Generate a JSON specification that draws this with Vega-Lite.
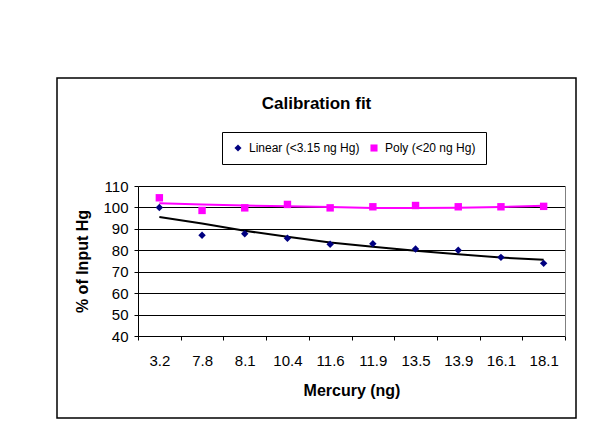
{
  "$schema": "https://vega.github.io/schema/vega-lite/v6.json",
  "width": 519,
  "height": 340,
  "autosize": {"type": "none"},
  "padding": {"left": 57, "top": 78, "right": 15, "bottom": 27},
  "background": "white",
  "config": {
    "font": "Liberation Sans",
    "view": {"stroke": "#000000", "strokeWidth": 1.5, "fill": "white"},
    "axis": {
      "labelFont": "Liberation Sans", "labelFontSize": 15, "labelColor": "black",
      "titleFont": "Liberation Sans", "titleFontSize": 16, "titleFontWeight": "bold", "titleColor": "black",
      "domainColor": "black", "tickColor": "black", "gridColor": "black", "tickSize": 4
    }
  },
  "title": {"text": "Calibration fit", "fontSize": 17, "fontWeight": "bold", "font": "Liberation Sans", "color": "black", "anchor": "middle", "offset": -35},
  "data": {"values": [
    {"mercury": "3.2", "series": "Linear (<3.15 ng Hg)", "value": 100, "fit": 95.5},
    {"mercury": "7.8", "series": "Linear (<3.15 ng Hg)", "value": 87, "fit": 92.5},
    {"mercury": "8.1", "series": "Linear (<3.15 ng Hg)", "value": 87.7, "fit": 89.1},
    {"mercury": "10.4", "series": "Linear (<3.15 ng Hg)", "value": 85.6, "fit": 86.3},
    {"mercury": "11.6", "series": "Linear (<3.15 ng Hg)", "value": 82.8, "fit": 83.6},
    {"mercury": "11.9", "series": "Linear (<3.15 ng Hg)", "value": 83.1, "fit": 81.6},
    {"mercury": "13.5", "series": "Linear (<3.15 ng Hg)", "value": 80.6, "fit": 79.8},
    {"mercury": "13.9", "series": "Linear (<3.15 ng Hg)", "value": 80, "fit": 78.1},
    {"mercury": "16.1", "series": "Linear (<3.15 ng Hg)", "value": 76.7, "fit": 76.6},
    {"mercury": "18.1", "series": "Linear (<3.15 ng Hg)", "value": 73.9, "fit": 75.6},
    {"mercury": "3.2", "series": "Poly (<20 ng Hg)", "value": 104.5, "fit": 101.9},
    {"mercury": "7.8", "series": "Poly (<20 ng Hg)", "value": 98.6, "fit": 101.4},
    {"mercury": "8.1", "series": "Poly (<20 ng Hg)", "value": 99.8, "fit": 100.9},
    {"mercury": "10.4", "series": "Poly (<20 ng Hg)", "value": 101.4, "fit": 100.5},
    {"mercury": "11.6", "series": "Poly (<20 ng Hg)", "value": 99.8, "fit": 100.2},
    {"mercury": "11.9", "series": "Poly (<20 ng Hg)", "value": 100.3, "fit": 99.7},
    {"mercury": "13.5", "series": "Poly (<20 ng Hg)", "value": 100.9, "fit": 99.7},
    {"mercury": "13.9", "series": "Poly (<20 ng Hg)", "value": 100.3, "fit": 99.8},
    {"mercury": "16.1", "series": "Poly (<20 ng Hg)", "value": 100.3, "fit": 100.2},
    {"mercury": "18.1", "series": "Poly (<20 ng Hg)", "value": 100.5, "fit": 100.8}
  ]},
  "encoding": {
    "x": {
      "field": "mercury", "type": "ordinal",
      "sort": ["3.2", "7.8", "8.1", "10.4", "11.6", "11.9", "13.5", "13.9", "16.1", "18.1"],
      "scale": {"type": "band", "range": [81, 508], "paddingInner": 0, "paddingOuter": 0},
      "axis": {"title": "Mercury (ng)", "labelAngle": 0, "tickBand": "extent", "offset": -82, "grid": false, "labelPadding": 13, "titlePadding": 14}
    }
  },
  "layer": [
    {
      "mark": {"type": "line", "strokeWidth": 2},
      "encoding": {
        "y": {
          "field": "fit", "type": "quantitative",
          "scale": {"domain": [40, 110], "range": [258, 108], "nice": false, "zero": false},
          "axis": {"title": "% of Input Hg", "values": [40, 50, 60, 70, 80, 90, 100, 110], "offset": -81, "grid": true, "gridWidth": 1, "labelPadding": 6, "titlePadding": 12}
        },
        "stroke": {"field": "series", "type": "nominal", "scale": {"range": ["#000000", "#FF00FF"]}, "legend": null}
      }
    },
    {
      "mark": {"type": "point", "filled": true, "opacity": 1, "size": 55},
      "encoding": {
        "y": {
          "field": "value", "type": "quantitative",
          "axis": {"orient": "right", "labels": false, "ticks": false, "grid": false, "title": null, "domainColor": "#808080", "offset": -11}
        },
        "color": {
          "field": "series", "type": "nominal",
          "scale": {"range": ["#000080", "#FF00FF"]},
          "legend": {"orient": "none", "legendX": 165, "legendY": 54, "direction": "horizontal", "title": null, "strokeColor": "black", "fillColor": "white", "padding": 10, "labelFontSize": 12, "labelFont": "Liberation Sans", "labelColor": "black", "symbolSize": 50, "columnPadding": 8, "labelOffset": 5}
        },
        "shape": {"field": "series", "type": "nominal", "scale": {"range": ["diamond", "square"]}}
      }
    }
  ],
  "resolve": {"axis": {"y": "independent"}}
}
